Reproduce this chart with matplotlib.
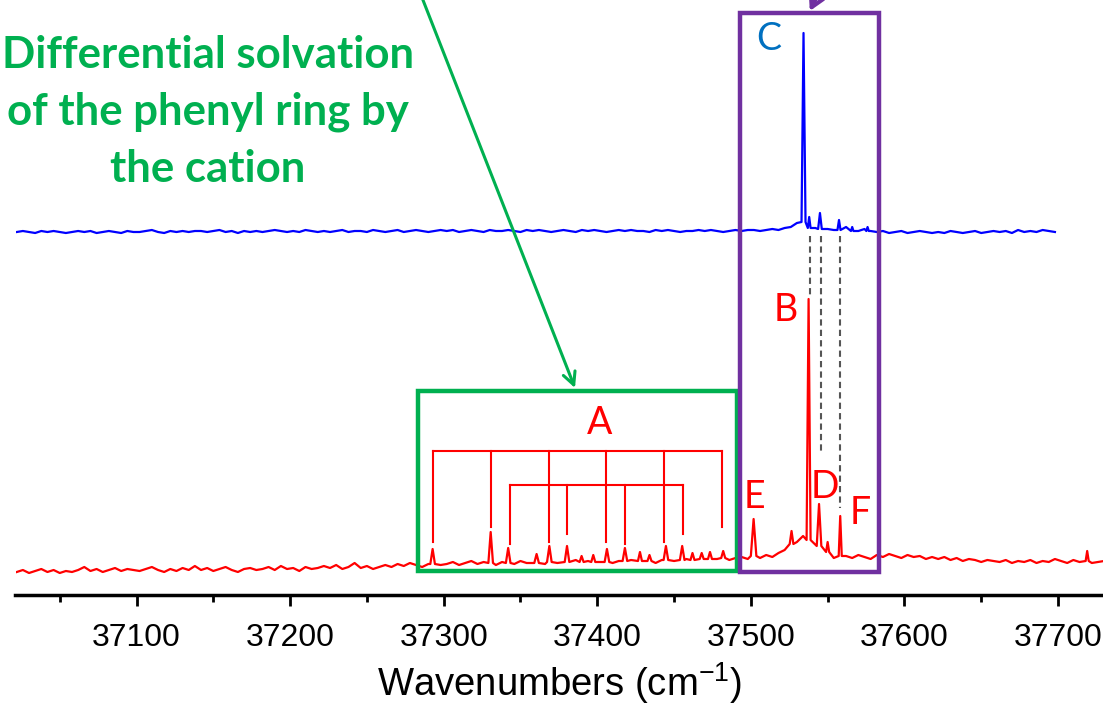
import numpy as np
import matplotlib
matplotlib.use("Agg")
import matplotlib.pyplot as plt
from matplotlib.patches import Rectangle

plt.rcParams['mathtext.fontset'] = 'custom'
plt.rcParams['mathtext.rm'] = 'Liberation Sans'
plt.rcParams['mathtext.it'] = 'Liberation Sans:italic'

# ---------------- data (intensities in arbitrary units) ----------------
grid_start, grid_step = 37022, 4

red_base = [0, 2, -1, 1, 3, 0, 2, -1, 1, 0,
            2, 5, 1, 3, 0, 2, 4, 1, 3, 2,
            1, 3, 5, 2, 0, 3, 1, 4, 2, 6,
            2, 4, 1, 3, 5, 2, 0, 3, 4, 2,
            3, 5, 2, 6, 3, 4, 1, 5, 3, 4,
            6, 4, 7, 3, 5, 9, 4, 6, 3, 5,
            7, 5, 8, 6, 9, 7, 5, 8, 9, 7,
            8, 10, 7, 9, 11, 8, 10, 9, 7, 10,
            9, 8, 11, 9, 10, 12, 8, 10, 9, 11,
            10, 12, 9, 11, 8, 10, 13, 9, 11, 10,
            12, 10, 13, 11, 9, 12, 14, 11, 10, 13,
            12, 14, 11, 15, 13, 16, 12, 14, 15, 13,
            16, 14, 17, 15, 19, 22, 26, 30, 36, 38,
            25, 30, 22, 14, 16, 16, 14, 17, 15, 13,
            17, 15, 18, 16, 14, 17, 15, 16, 13, 15,
            13, 15, 12, 14, 11, 13, 12, 10, 12, 11,
            10, 12, 9, 11, 10, 12, 9, 11, 10, 13,
            11, 9, 12, 10, 11, 9, 10, 11]

blue_base = [0, 1, 0, -1, 1, 0, 1, 0, -1, 0,
             1, 0, 1, -1, 0, 1, 0, -1, 1, 0,
             0, 1, 2, 0, -1, 1, 0, 1, 0, 1,
             1, 0, 1, 2, 0, 1, -1, 1, 0, 1,
             0, 1, 2, 1, 0, 1, 0, 2, 1, 0,
             1, 0, 1, 2, 0, 1, 1, 0, 2, 1,
             0, 1, 2, 0, 1, 2, 1, 0, 1, 2,
             1, 2, 0, 1, 2, 1, 0, 2, 1, 1,
             2, 1, 0, 2, 1, 2, 1, 0, 1, 2,
             1, 0, 2, 1, 2, 1, 0, 1, 2, 1,
             2, 1, 1, 0, 2, 1, 2, 1, 0, 1,
             1, 2, 1, 2, 1, 0, 1, 2, 1, 2,
             2, 1, 2, 3, 2, 4, 5, 9, 12, 4,
             4, 6, 3, 2, 1, 5, 2, 1, 3, 1,
             0, 1, -1, 0, 1, -1, 0, 1, 0, -1,
             0, -1, 1, 0, -1, 0, 1, -1, 0, 1,
             0, 1, -1, 2, 0, 1, 0, 2, 1, 0]

# peaks: (centre cm-1, top, foot, half-width cm-1)
red_peaks = [(37292.8, 23, 8, 1.5), (37330.6, 40, 9, 1.5), (37342.0, 24, 9, 1.5),
             (37360.5, 18, 9, 1.5), (37368.8, 26, 10, 1.5), (37380.3, 26, 10, 1.5),
             (37389.8, 16, 10, 1.3), (37397.4, 17, 10, 1.3), (37406.3, 23, 10, 1.5),
             (37418.0, 24, 11, 1.5), (37427.8, 20, 11, 1.3), (37434.0, 17, 11, 1.3),
             (37444.7, 26, 12, 1.5), (37455.3, 26, 12, 1.5), (37462.0, 19, 12, 1.3),
             (37468.0, 19, 13, 1.3), (37473.4, 20, 13, 1.3), (37482.0, 21, 14, 1.3),
             (37501.8, 53, 16, 1.8), (37526.5, 41, 28, 1.2), (37537.6, 273, 32, 1.3),
             (37544.4, 68, 26, 1.5), (37550.0, 30, 20, 1.0), (37558.2, 56, 16, 1.0),
             (37719.0, 21, 11, 1.0)]

blue_peaks = [(37534.3, 199, 10, 1.3), (37538.0, 15, 4, 0.9), (37545.0, 19, 3, 1.2),
              (37557.4, 12, 2, 1.0), (37566.0, 5, 1, 0.8), (37576.0, 5, 1, 0.8)]

red_offset, blue_offset = 23, 363

# progression assignments (cm-1)
combA_upper = [37292.8, 37330.5, 37368.3, 37406.0, 37443.5, 37481.0]
combA_lower = [37343.0, 37380.5, 37418.2, 37455.8]
dashed_pos = [37538.7, 37545.6, 37558.2]

xticks_major = [37100, 37200, 37300, 37400, 37500, 37600, 37700]
xticks_minor = [37050, 37150, 37250, 37350, 37450, 37550, 37650]


def build(base, peaks):
    xs = grid_start + grid_step * np.arange(len(base))
    pts = []
    for x, v in zip(xs, base):
        if all(abs(x - c) > hw + 1.0 for c, _, _, hw in peaks):
            pts.append((x, v))
    for c, top, foot, hw in peaks:
        pts += [(c - hw, foot), (c, top), (c + hw, foot)]
    pts.sort()
    a = np.array(pts, dtype=float)
    return a[:, 0], a[:, 1]


# ---------------- figure ----------------
W, H = 1103, 713
fig = plt.figure(figsize=(W / 100, H / 100), dpi=100)
ax = fig.add_axes([15.5 / W, 118 / H, 1 - 15.5 / W, 595 / H])

rx, ry = build(red_base, red_peaks)
bx, by = build(blue_base, blue_peaks)
ax.plot(rx, ry + red_offset, color='#FF0000', lw=1.6, zorder=3)
ax.plot(bx, by + blue_offset, color='#0000FF', lw=1.6, zorder=3)

# dashed guide lines
for x, yb in zip(dashed_pos, [300, 141, 87]):
    ax.plot([x, x], [359, yb], color='#555555', lw=1.5, ls=(0, (3, 2)), zorder=2)

# A progression combs
rc = '#FF0000'
ax.plot([combA_upper[0], combA_upper[-1]], [144.3, 144.3], color=rc, lw=1.5)
for x, yb in zip(combA_upper, [53, 68, 53, 53, 53, 68]):
    ax.plot([x, x], [144.3, yb], color=rc, lw=1.5)
ax.plot([combA_lower[0], combA_lower[-1]], [110, 110], color=rc, lw=1.5)
for x, yb in zip(combA_lower, [51, 61, 51, 61]):
    ax.plot([x, x], [110, yb], color=rc, lw=1.5)

# boxes
ax.add_patch(Rectangle((37283.3, 24), 37490.9 - 37283.3, 204 - 24, fill=False,
                       ec='#00B050', lw=3.2, clip_on=False, zorder=4, joinstyle='miter'))
ax.add_patch(Rectangle((37492.8, 23), 37583.3 - 37492.8, 582 - 23, fill=False,
                       ec='#7030A0', lw=3.2, clip_on=False, zorder=4, joinstyle='miter'))

# labels
lf = 'Lato'
ax.text(37401.7, 172, 'A', color=rc, fontsize=27, family=lf, ha='center', va='center')
ax.text(37522.8, 285, 'B', color=rc, fontsize=27, family=lf, ha='center', va='center')
ax.text(37511.7, 556, 'C', color='#0070C0', fontsize=27, family=lf, ha='center', va='center')
ax.text(37548.0, 108, 'D', color=rc, fontsize=27, family=lf, ha='center', va='center')
ax.text(37502.5, 98, 'E', color=rc, fontsize=27, family=lf, ha='center', va='center')
ax.text(37571.5, 82, 'F', color=rc, fontsize=27, family=lf, ha='center', va='center')

ax.text(37146.6, 483, 'Differential solvation\nof the phenyl ring by\nthe cation',
        color='#00B050', fontsize=31.5, family=lf, weight='bold', ha='center',
        va='center', multialignment='center', linespacing=1.5)

# arrows
ax.annotate('', xy=(37385.5, 207), xytext=(37281.4, 615),
            arrowprops=dict(arrowstyle='->,head_length=0.9,head_width=0.45',
                            color='#00B050', lw=2.2, shrinkA=0, shrinkB=0),
            annotation_clip=False)
ax.annotate('', xy=(37538.4, 584), xytext=(37556, 640),
            arrowprops=dict(arrowstyle='->,head_length=0.9,head_width=0.5',
                            color='#7030A0', lw=3, shrinkA=0, shrinkB=0),
            annotation_clip=False)

# axes styling
for s in ['left', 'right', 'top']:
    ax.spines[s].set_visible(False)
ax.spines['bottom'].set_linewidth(2.5)
ax.set_yticks([])
ax.set_xticks(xticks_major)
ax.set_xticks(xticks_minor, minor=True)
ax.set_xlim(37021.2, 37729.3)
ax.set_ylim(0, 595)
ax.tick_params(axis='x', which='major', direction='out', length=8, width=2,
               pad=12, labelsize=23)
ax.tick_params(axis='x', which='minor', direction='out', length=5, width=2)
for lab in ax.get_xticklabels():
    lab.set_family('Liberation Sans')
ax.set_xlabel(r'Wavenumbers (cm$^{\mathregular{-1}}$)', fontsize=27.5,
              family='Liberation Sans', labelpad=5)

fig.savefig('out.png', dpi=100)
